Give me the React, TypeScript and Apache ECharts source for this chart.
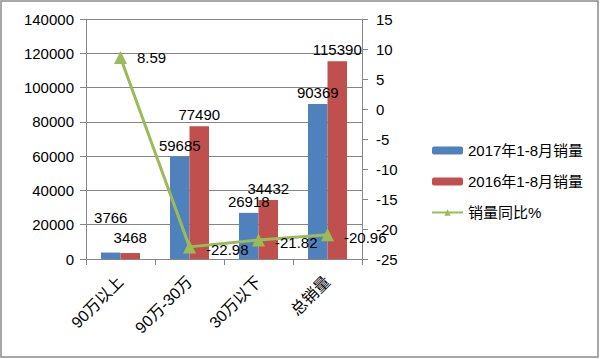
import React, { useEffect, useRef } from "react";
import * as echarts from "echarts";

const categories = ["90万以上", "90万-30万", "30万以下", "总销量"];
const sales2017 = [3766, 59685, 26918, 90369];
const sales2016 = [3468, 77490, 34432, 115390];
const yoy = [8.59, -22.98, -21.82, -20.96];
const seriesNames = ["2017年1-8月销量", "2016年1-8月销量", "销量同比%"];

const FONT = "'Liberation Sans', 'Noto Sans CJK SC', sans-serif";
const AXIS = "#868686";

export default function App() {
  const ref = useRef<HTMLDivElement>(null);
  useEffect(() => {
    const chart = echarts.init(ref.current!, null, { renderer: "svg" });
    const txt = { fontFamily: FONT, fontSize: 15, color: "#000" };
    chart.setOption({
      animation: false,
      textStyle: { fontFamily: FONT },
      graphic: [
        {
          type: "rect",
          shape: { x: 1, y: 1, width: 597, height: 356 },
          style: { fill: "none", stroke: "#8a8a8a", lineWidth: 1.5 },
        },
      ],
      grid: { left: 86, right: 238, top: 19, bottom: 100, containLabel: false },
      legend: {
        orient: "vertical",
        left: 426,
        top: 138,
        itemWidth: 31,
        itemHeight: 8,
        itemGap: 16,
        textStyle: { ...txt },
        data: seriesNames,
      },
      xAxis: {
        type: "category",
        data: categories,
        axisLine: { lineStyle: { color: AXIS } },
        axisTick: { show: true, length: 6, lineStyle: { color: AXIS } },
        axisLabel: { ...txt, fontSize: 16, rotate: 45, margin: 20, interval: 0 },
      },
      yAxis: [
        {
          type: "value",
          min: 0,
          max: 140000,
          interval: 20000,
          axisLine: { show: true, lineStyle: { color: AXIS } },
          axisTick: { show: true, length: 6, lineStyle: { color: AXIS } },
          splitLine: { lineStyle: { color: AXIS } },
          axisLabel: { ...txt, margin: 12, formatter: (v: number) => String(v) },
        },
        {
          type: "value",
          min: -25,
          max: 15,
          interval: 5,
          position: "right",
          axisLine: { show: true, lineStyle: { color: AXIS } },
          axisTick: { show: true, length: 6, lineStyle: { color: AXIS } },
          splitLine: { show: false },
          axisLabel: { ...txt, margin: 14 },
        },
      ],
      series: [
        {
          name: seriesNames[0],
          type: "bar",
          data: sales2017.map((v, i) =>
            i === 0 ? { value: v, label: { offset: [0, -24] } } : v
          ),
          barWidth: 19.5,
          barGap: "0%",
          itemStyle: { color: "#4F81BD" },
          label: { show: true, position: "top", ...txt, distance: 4 },
        },
        {
          name: seriesNames[1],
          type: "bar",
          data: sales2016.map((v, i) =>
            i === 0 ? { value: v, label: { offset: [0, -4] } } : v
          ),
          barWidth: 19.5,
          barGap: "0%",
          itemStyle: { color: "#C0504D" },
          label: { show: true, position: "top", ...txt, distance: 4 },
        },
        {
          name: seriesNames[2],
          type: "line",
          yAxisIndex: 1,
          data: yoy.map((v, i) =>
            i === 0 ? v : { value: v, label: { offset: [0, 3] } }
          ),
          symbol: "triangle",
          symbolSize: 13,
          lineStyle: { color: "#9BBB59", width: 3 },
          itemStyle: { color: "#9BBB59" },
          label: { show: true, position: "right", ...txt, distance: 10 },
          z: 5,
        },
      ],
    });
    return () => chart.dispose();
  }, []);
  return (
    <div
      ref={ref}
      style={{ position: "fixed", left: 0, top: 0, width: 600, height: 359, background: "#fff" }}
    />
  );
}
